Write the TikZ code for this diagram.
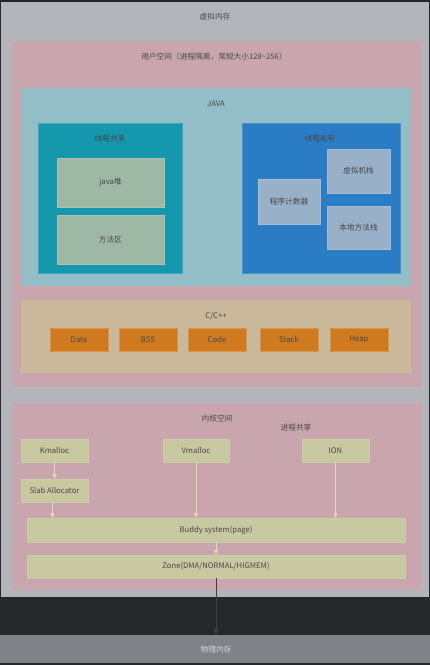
\documentclass[tikz,border=0pt]{standalone}
\usepackage{fontspec}
\setmainfont{Noto Sans CJK SC}
\usetikzlibrary{arrows.meta}
\definecolor{darkbg}{HTML}{26272B}
\definecolor{vmgray}{HTML}{B4B5BA}
\definecolor{pinkbg}{HTML}{C9A6AE}
\definecolor{javacyan}{HTML}{93BEC7}
\definecolor{tealbox}{HTML}{1597AD}
\definecolor{bluebox}{HTML}{2A7CC4}
\definecolor{tealinner}{HTML}{9FB8A5}
\definecolor{blueinner}{HTML}{98B0C8}
\definecolor{cbg}{HTML}{C9B89A}
\definecolor{orangebox}{HTML}{CF7A1F}
\definecolor{kbox}{HTML}{C8C8A1}
\definecolor{arrowlight}{HTML}{DEDCB5}
\definecolor{physgray}{HTML}{818287}
\definecolor{txt}{HTML}{48484A}
\definecolor{phystxt}{HTML}{D6D6D8}
\begin{document}
\begin{tikzpicture}[x=1pt,y=-1pt,
  every node/.style={font=\fontsize{7.7}{9}\selectfont, text=txt, inner sep=0pt, outer sep=0pt},
  area/.style={draw=none, rectangle},
  tinner/.style={rectangle, fill=tealinner, draw=tealinner!85!white, line width=0.4pt},
  binner/.style={rectangle, fill=blueinner, draw=blueinner!85!white, line width=0.4pt},
  obox/.style={rectangle, fill=orangebox, draw=orangebox!80!white, line width=0.4pt, minimum width=58pt, minimum height=23pt},
  kboxstyle/.style={rectangle, fill=kbox, draw=kbox!90!white, line width=0.4pt},
  larrow/.style={draw=arrowlight, line width=0.8pt, -{Triangle[width=4pt,length=5pt]}},
  darrow/.style={draw=black!75, line width=1pt, -{Triangle[width=5pt,length=6pt]}}
]
\useasboundingbox (0,0) rectangle (430,665);
\fill[darkbg] (0,0) rectangle (430,665);
% virtual memory
\node[area, fill=vmgray, minimum width=428pt, minimum height=595pt] (vm) at (215,299.5) {};
\node (vmt) at (215,17) {虚拟内存};
% physical memory
\node[area, fill=physgray, minimum width=430pt, minimum height=28pt] (phys) at (215,649) {};
\node[text=phystxt] (phyt) at (216,650) {物理内存};
% user space
\node[area, fill=pinkbg, minimum width=410pt, minimum height=346pt] (user) at (217,214) {};
\node (usert) at (214,57) {用户空间（进程隔离，常规大小128\textasciitilde256）};
% java
\node[area, fill=javacyan, minimum width=390pt, minimum height=198pt] (java) at (216,187) {};
\node (javat) at (216,104) {JAVA};
% thread shared
\node[rectangle, fill=tealbox, draw=tealbox!85!white, line width=0.4pt, minimum width=144pt, minimum height=150pt] (shared) at (110,198) {};
\node (sharedt) at (110,139) {线程共享};
\node[tinner, minimum width=107pt, minimum height=49pt] (jheap) at (110.5,182.5) {java堆};
\node[tinner, minimum width=107pt, minimum height=49pt] (method) at (110.5,239.5) {方法区};
% thread private
\node[rectangle, fill=bluebox, draw=bluebox!85!white, line width=0.4pt, minimum width=158pt, minimum height=150pt] (private) at (321,198) {};
\node (privatet) at (320,139) {线程私有};
\node[binner, minimum width=63pt, minimum height=44pt] (vmstack) at (358.5,171) {虚拟机栈};
\node[binner, minimum width=62pt, minimum height=45pt] (pc) at (289,201.5) {程序计数器};
\node[binner, minimum width=63pt, minimum height=43pt] (native) at (358.5,227.5) {本地方法栈};
% C/C++
\node[area, fill=cbg, minimum width=390pt, minimum height=73pt] (cpp) at (216,336.5) {};
\node (cppt) at (216,316) {C/C++};
\node[obox] (data) at (79,339.5) {Data};
\node[obox] (bss) at (148,339.5) {BSS};
\node[obox] (code) at (217,339.5) {Code};
\node[obox] (stack) at (289,339.5) {Stack};
\node[obox] (heap) at (359,339.5) {Heap};
% kernel
\node[area, fill=pinkbg, minimum width=410pt, minimum height=187pt] (kernel) at (217,496.5) {};
\node (kernelt) at (217,419) {内核空间};
\node (sharep) at (296,428) {进程共享};
\node[kboxstyle, minimum width=67pt, minimum height=23pt] (kmalloc) at (54.5,450.5) {Kmalloc};
\node[kboxstyle, minimum width=66pt, minimum height=23pt] (vmalloc) at (196,450.5) {Vmalloc};
\node[kboxstyle, minimum width=67pt, minimum height=23pt] (ion) at (335.5,450.5) {ION};
\node[kboxstyle, minimum width=67pt, minimum height=23pt] (slab) at (54.5,490.5) {Slab Allocator};
\node[kboxstyle, minimum width=378pt, minimum height=24pt] (buddy) at (216,530) {Buddy system(page)};
\node[kboxstyle, minimum width=378pt, minimum height=23pt] (zone) at (216,566.5) {Zone(DMA/NORMAL/HIGMEM)};
% arrows
\draw[larrow] (kmalloc.south) -- (slab.north);
\draw[larrow] ([xshift=-2pt]slab.south) -- ([xshift=-2pt]slab.south |- buddy.north);
\draw[larrow] (vmalloc.south) -- (vmalloc.south |- buddy.north);
\draw[larrow] (ion.south) -- (ion.south |- buddy.north);
\draw[larrow] (buddy.south) -- (zone.north);
\draw[darrow] (zone.south) -- (phys.north -| zone.south);
\end{tikzpicture}
\end{document}
